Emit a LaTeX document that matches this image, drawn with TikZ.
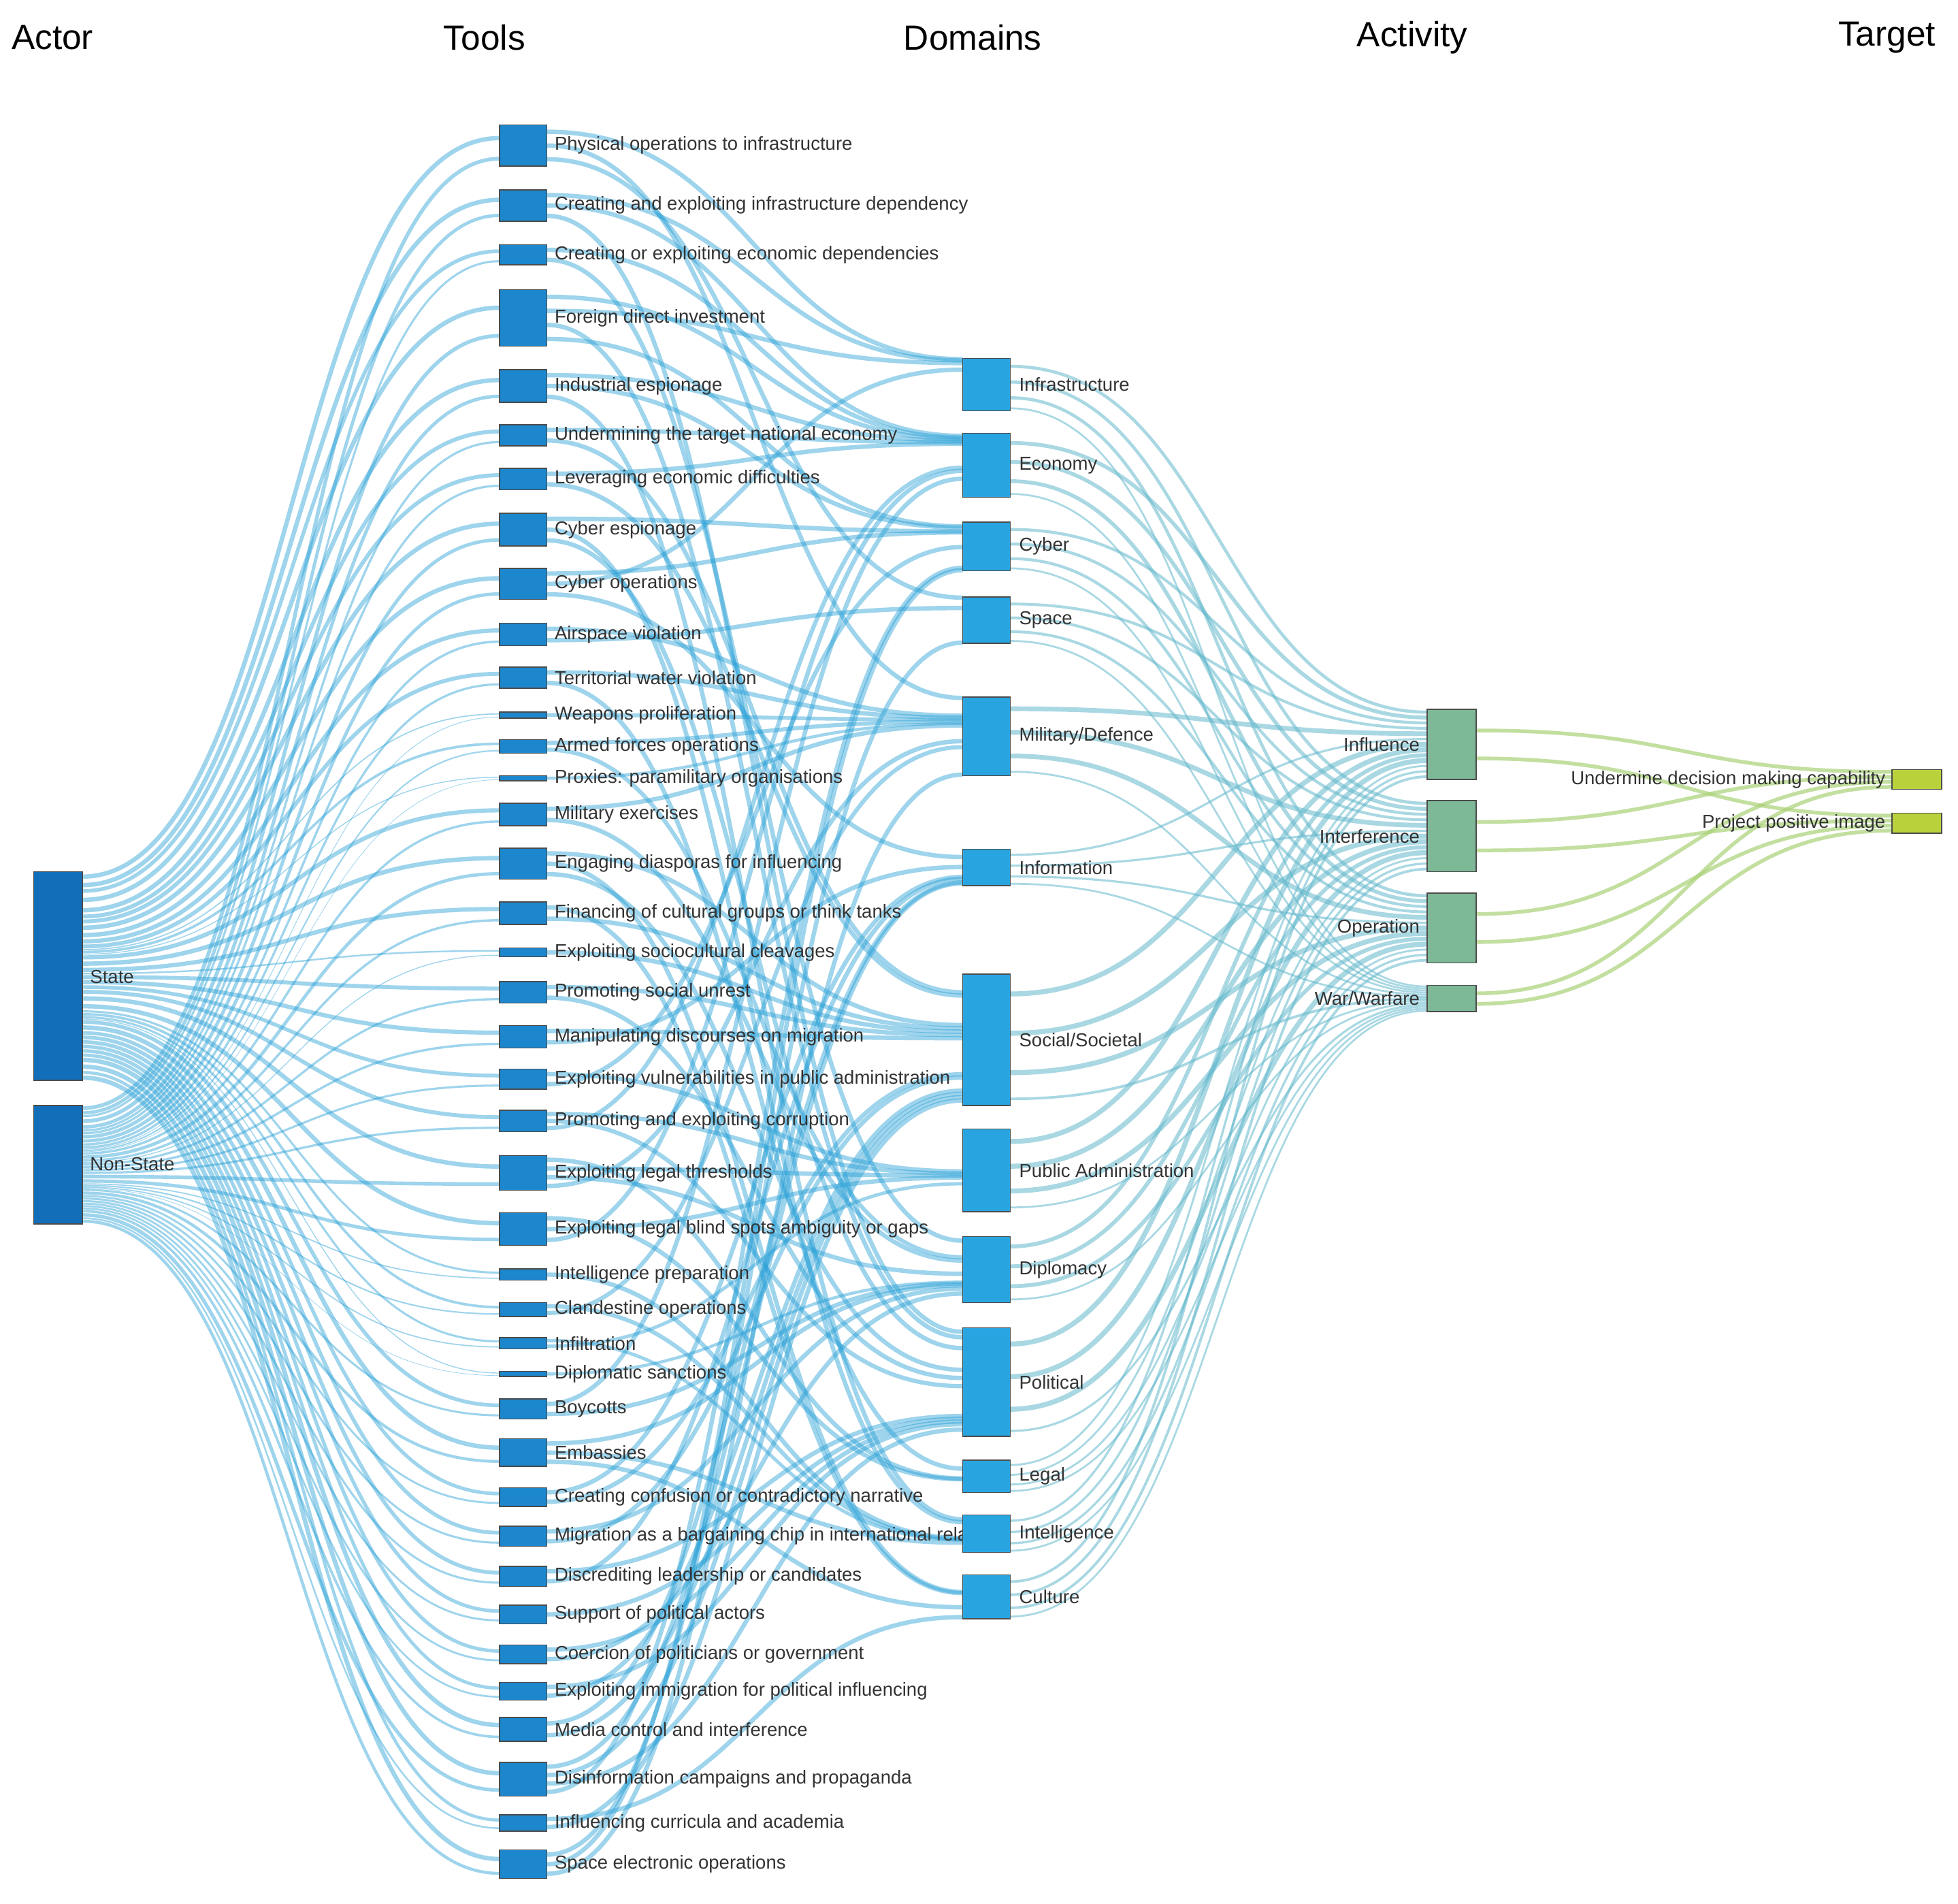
\documentclass[tikz,border=0pt]{standalone}
\usepackage{fontspec}
\setmainfont{Liberation Sans}
\definecolor{actc}{RGB}{18,110,185}
\definecolor{toolc}{RGB}{28,135,205}
\definecolor{domc}{RGB}{40,165,225}
\definecolor{actvc}{RGB}{125,185,150}
\definecolor{tgtc}{RGB}{185,210,60}
\definecolor{lnk}{RGB}{40,160,215}
\definecolor{lnkb}{RGB}{100,185,205}
\definecolor{lnkc}{RGB}{170,210,120}
\newcommand\sk[5][]{\draw[#1] (#2,#3) .. controls ({(#2+#4)/2},#3) and ({(#2+#4)/2},#5) .. (#4,#5);}
\def\DT{{287,347,418,478,558,680,780,904,990,1063,1169,1213,1261}}
\def\DH{{42,51,39,37,63,29,105,66,53,87,26,30,35}}
\def\AT{{568,641,715,789}}
\def\AH{{56,57,56,21}}
\def\SH{{0.3,0.3,0.3,0.1}}
\def\SC{{0,0.3,0.6,0.9}}
\def\tools{1/100/133/{Physical operations to infrastructure}/{1,5,4},
2/152/177/{Creating and exploiting infrastructure dependency}/{1,2,10},
3/196/212/{Creating or exploiting economic dependencies}/{2,9},
4/232/277/{Foreign direct investment}/{2,1,10,3},
5/296/322/{Industrial espionage}/{2,3,12},
6/340/357/{Undermining the target national economy}/{2,7},
7/375/392/{Leveraging economic difficulties}/{2,7},
8/411/437/{Cyber espionage}/{3,12,10},
9/455/480/{Cyber operations}/{3,1,6},
10/499/517/{Airspace violation}/{5,4},
11/534/551/{Territorial water violation}/{5,11},
12/570/575/{Weapons proliferation}/{5},
13/592/603/{Armed forces operations}/{5,9},
14/621/625/{Proxies: paramilitary organisations}/{5},
15/643/661/{Military exercises}/{5,9},
16/679/704/{Engaging diasporas for influencing}/{7,13,10},
17/722/740/{Financing of cultural groups or think tanks}/{13,7},
18/759/766/{Exploiting sociocultural cleavages}/{7},
19/786/803/{Promoting social unrest}/{7,10},
20/821/839/{Manipulating discourses on migration}/{7,6},
21/856/872/{Exploiting vulnerabilities in public administration}/{8,3},
22/889/906/{Promoting and exploiting corruption}/{8,10,2},
23/925/953/{Exploiting legal thresholds}/{11,8,9,5},
24/971/997/{Exploiting legal blind spots ambiguity or gaps}/{11,8,2},
25/1016/1025/{Intelligence preparation}/{12},
26/1043/1054/{Clandestine operations}/{12,5},
27/1071/1080/{Infiltration}/{12,8},
28/1098/1102/{Diplomatic sanctions}/{9},
29/1120/1136/{Boycotts}/{2,9},
30/1152/1174/{Embassies}/{9,12,13},
31/1191/1206/{Creating confusion or contradictory narrative}/{6,7},
32/1222/1238/{Migration as a bargaining chip in international relations}/{9,7},
33/1254/1270/{Discrediting leadership or candidates}/{10,6},
34/1285/1300/{Support of political actors}/{10},
35/1317/1332/{Coercion of politicians or government}/{10,9},
36/1347/1361/{Exploiting immigration for political influencing}/{10,7},
37/1375/1394/{Media control and interference}/{6,7},
38/1411/1438/{Disinformation campaigns and propaganda}/{6,7,10,3},
39/1453/1466/{Influencing curricula and academia}/{13,7},
40/1481/1504/{Space electronic operations}/{4,3,5}}
\def\doms{1/287/329/Infrastructure,2/347/398/Economy,3/418/457/Cyber,4/478/515/Space,5/558/621/Military{/}Defence,6/680/709/Information,7/780/885/Social{/}Societal,8/904/970/Public Administration,9/990/1043/Diplomacy,10/1063/1150/Political,11/1169/1195/Legal,12/1213/1243/Intelligence,13/1261/1296/Culture}
\def\acts{1/568/624/Influence,2/641/698/Interference,3/715/771/Operation,4/789/810/War{/}Warfare}
\begin{document}
\begin{tikzpicture}[x=1pt,y=-1pt,
 box/.style={draw=black!70,line width=0.8pt,inner sep=0,outer sep=0},
 lab/.style={font=\fontsize{15}{15}\selectfont,text=black!80,inner sep=0},
 head/.style={font=\fontsize{28}{28}\selectfont,inner sep=0},
 lk/.style={draw=lnk,opacity=0.45},
 lkb/.style={draw=lnkb,opacity=0.55},
 lkc/.style={draw=lnkc,opacity=0.7}]
\useasboundingbox (0,0) rectangle (1568,1524);
\fill[white] (0,0) rectangle (1568,1524);
\gdef\accS{698}\gdef\accN{885}
\foreach \i/\t/\b/\lbl/\tg in \tools {
  \pgfmathsetmacro\h{\b-\t}
  \pgfmathsetmacro\ws{0.64*0.364*\h}
  \pgfmathsetmacro\wn{0.36*0.364*\h}
  \pgfmathsetmacro\ys{\accS+\ws/2}
  \pgfmathsetmacro\yn{\accN+\wn/2}
  \pgfmathsetmacro\ns{\accS+\ws}\global\let\accS\ns
  \pgfmathsetmacro\nn{\accN+\wn}\global\let\accN\nn
  \pgfmathsetmacro\yss{\t+0.32*\h}
  \pgfmathsetmacro\ynn{\t+0.82*\h}
  \pgfmathsetmacro\wsa{min(\ws*0.8,3.5)}
  \pgfmathsetmacro\wna{min(\wn*0.8,3)}
  \sk[lk,line width=\wsa pt]{66}{\ys}{400}{\yss}
  \sk[lk,line width=\wna pt]{66}{\yn}{400}{\ynn}
  \foreach \d [count=\c] in \tg {\global\let\k\c}
  \foreach \d [count=\j] in \tg {
    \pgfmathsetmacro\ya{\t+(\j-0.5)*\h/\k}
    \pgfmathsetmacro\w{min(\h/\k*0.6,3.5)}
    \pgfmathsetmacro\dt{\DT[\d-1]}
    \pgfmathsetmacro\dh{\DH[\d-1]}
    \pgfmathsetmacro\yb{\dt+(\i-0.5)/40*\dh}
    \sk[lk,line width=\w pt]{438}{\ya}{771}{\yb}
  }
}
\foreach \d/\t/\b/\lbl in \doms {
  \foreach \a in {1,2,3,4} {
    \pgfmathsetmacro\dh{\b-\t}
    \pgfmathsetmacro\s{\SH[\a-1]}
    \pgfmathsetmacro\cu{\SC[\a-1]}
    \pgfmathsetmacro\ya{\t+\dh*(\cu+\s/2)}
    \pgfmathsetmacro\w{max(min(\dh*\s*0.2,4),1.5)}
    \pgfmathsetmacro\at{\AT[\a-1]}
    \pgfmathsetmacro\ah{\AH[\a-1]}
    \pgfmathsetmacro\yb{\at+\ah*(\d-0.5)/13}
    \sk[lkb,line width=\w pt]{809}{\ya}{1143}{\yb}
  }
}
\foreach \a/\t/\b/\lbl in \acts {
  \pgfmathsetmacro\ah{\b-\t}
  \pgfmathsetmacro\ya{\t+0.3*\ah}
  \pgfmathsetmacro\yb{\t+0.7*\ah}
  \pgfmathsetmacro\ta{616+16*(\a-0.5)/4}
  \pgfmathsetmacro\tb{651+16*(\a-0.5)/4}
  \sk[lkc,line width=3pt]{1182}{\ya}{1515}{\ta}
  \sk[lkc,line width=3pt]{1182}{\yb}{1515}{\tb}
}
\node[head] (hA) at (42,30) {Actor};
\node[head] (hT) at (388,30) {Tools};
\node[head] (hD) at (779,30) {Domains};
\node[head] (hV) at (1131,30) {Activity};
\node[head] (hG) at (1511,30) {Target};
\node[box,fill=actc,minimum width=39pt,minimum height=167pt] (S) at (46.5,781.5) {};
\node[box,fill=actc,minimum width=39pt,minimum height=95pt] (N) at (46.5,932.5) {};
\node[lab,anchor=west] at (72,782) {State};
\node[lab,anchor=west] at (72,932) {Non-State};
\foreach \i/\t/\b/\lbl/\tg in \tools {
  \pgfmathsetmacro\h{\b-\t}
  \pgfmathsetmacro\yc{(\t+\b)/2}
  \node[box,fill=toolc,minimum width=38pt,minimum height=\h pt] (T\i) at (419,\yc) {};
  \node[lab,anchor=west] at (444,\yc) {\lbl};
}
\foreach \d/\t/\b/\lbl in \doms {
  \pgfmathsetmacro\h{\b-\t}
  \pgfmathsetmacro\yc{(\t+\b)/2}
  \node[box,fill=domc,minimum width=38pt,minimum height=\h pt] (D\d) at (790,\yc) {};
  \node[lab,anchor=west] at (816,\yc) {\lbl};
}
\foreach \a/\t/\b/\lbl in \acts {
  \pgfmathsetmacro\h{\b-\t}
  \pgfmathsetmacro\yc{(\t+\b)/2}
  \node[box,fill=actvc,minimum width=39pt,minimum height=\h pt] (A\a) at (1162.5,\yc) {};
  \node[lab,anchor=east] at (1137,\yc) {\lbl};
}
\node[box,fill=tgtc,minimum width=40pt,minimum height=16pt] (G1) at (1535,624) {};
\node[box,fill=tgtc,minimum width=40pt,minimum height=16pt] (G2) at (1535,659) {};
\node[lab,anchor=east] at (1510,624) {Undermine decision making capability};
\node[lab,anchor=east] at (1510,659) {Project positive image};
\end{tikzpicture}
\end{document}
